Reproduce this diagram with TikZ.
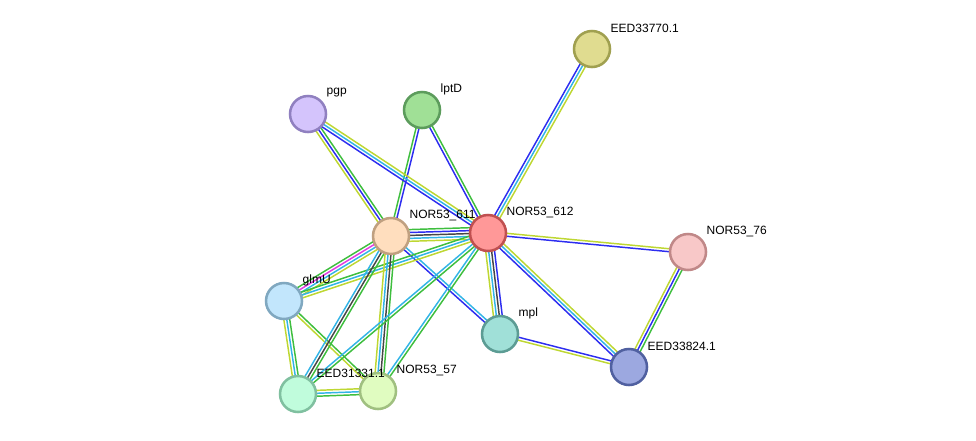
\documentclass[tikz,border=0pt]{standalone}
\usepackage{fontspec}
\setmainfont{Liberation Sans}
\usetikzlibrary{calc,backgrounds}

\definecolor{nbgreen}{RGB}{62,190,62}
\definecolor{ocblue}{RGB}{45,45,240}
\definecolor{cxblack}{RGB}{70,70,70}
\definecolor{dbcyan}{RGB}{50,180,230}
\definecolor{tmyellow}{RGB}{190,215,50}
\definecolor{exmagenta}{RGB}{225,60,225}

% parallel lines between two proteins, one per evidence colour
\newcommand{\evidence}[3]{%
    \foreach \c [count=\n] in {#3} {\xdef\nlines{\n}}
    \foreach \c [count=\i] in {#3} {
        \pgfmathsetmacro{\off}{(\i-1-(\nlines-1)/2)*2.2}
        \draw[\c] ($(#1)!\off pt!90:(#2)$) -- ($(#2)!\off pt!-90:(#1)$);
    }
}

\begin{document}
\begin{tikzpicture}[
    x=0.75pt, y=-0.75pt,
    prot/.style={circle, draw, line width=1.9pt, minimum size=27pt, inner sep=0pt},
    lbl/.style={anchor=west, inner sep=0pt, font=\fontsize{9}{11}\selectfont},
    every path/.style={line width=1.1pt}
]
    \useasboundingbox (0,0) rectangle (976,440);

    \node[prot, fill={rgb,255:red,255;green,152;blue,152}, draw={rgb,255:red,192;green,80;blue,80}] (n612) at (488,233) {};
    \node[prot, fill={rgb,255:red,255;green,222;blue,190}, draw={rgb,255:red,192;green,160;blue,128}] (n611) at (391,236) {};
    \node[prot, fill={rgb,255:red,224;green,220;blue,144}, draw={rgb,255:red,160;green,160;blue,80}] (e770) at (592,49) {};
    \node[prot, fill={rgb,255:red,160;green,224;blue,150}, draw={rgb,255:red,92;green,156;blue,92}] (lptd) at (422,110) {};
    \node[prot, fill={rgb,255:red,212;green,196;blue,252}, draw={rgb,255:red,144;green,128;blue,192}] (pgp) at (308,114) {};
    \node[prot, fill={rgb,255:red,248;green,200;blue,200}, draw={rgb,255:red,192;green,136;blue,136}] (n76) at (688,252) {};
    \node[prot, fill={rgb,255:red,194;green,230;blue,252}, draw={rgb,255:red,128;green,168;blue,192}] (glmu) at (284,301) {};
    \node[prot, fill={rgb,255:red,160;green,224;blue,216}, draw={rgb,255:red,92;green,156;blue,148}] (mpl) at (500,334) {};
    \node[prot, fill={rgb,255:red,156;green,168;blue,224}, draw={rgb,255:red,80;green,96;blue,160}] (e824) at (629,367) {};
    \node[prot, fill={rgb,255:red,192;green,252;blue,220}, draw={rgb,255:red,128;green,192;blue,160}] (e331) at (298,394) {};
    \node[prot, fill={rgb,255:red,224;green,252;blue,192}, draw={rgb,255:red,160;green,192;blue,128}] (n57) at (378,391) {};

    \foreach \p/\t in {n612/NOR53\_612, n611/NOR53\_611, e770/EED33770.1, lptd/lptD,
        pgp/pgp, n76/NOR53\_76, glmu/glmU, mpl/mpl, e824/EED33824.1,
        e331/EED31331.1, n57/NOR53\_57}
        \node[lbl] (t\p) at ($(\p)+(18,-21)$) {\t};

    \begin{pgfonlayer}{background}
        \evidence{n612}{e770}{tmyellow,dbcyan,ocblue}
        \evidence{n612}{lptd}{nbgreen,ocblue}
        \evidence{n611}{lptd}{ocblue,nbgreen}
        \evidence{pgp}{n611}{tmyellow,ocblue,nbgreen}
        \evidence{pgp}{n612}{ocblue,dbcyan,tmyellow}
        \evidence{n611}{n612}{tmyellow,dbcyan,cxblack,ocblue,nbgreen}
        \evidence{n612}{n76}{ocblue,tmyellow}
        \evidence{n612}{e824}{ocblue,dbcyan,tmyellow}
        \evidence{n612}{mpl}{tmyellow,dbcyan,cxblack,ocblue}
        \evidence{n611}{mpl}{ocblue,dbcyan}
        \evidence{n76}{e824}{tmyellow,ocblue,nbgreen}
        \evidence{mpl}{e824}{tmyellow,ocblue}
        \evidence{glmu}{n611}{tmyellow,dbcyan,exmagenta,nbgreen}
        \evidence{glmu}{n612}{tmyellow,dbcyan,nbgreen}
        \evidence{glmu}{e331}{tmyellow,dbcyan,nbgreen}
        \evidence{glmu}{n57}{tmyellow,nbgreen}
        \evidence{e331}{n57}{nbgreen,dbcyan,tmyellow}
        \evidence{n611}{e331}{dbcyan,cxblack,nbgreen}
        \evidence{n611}{n57}{tmyellow,dbcyan,cxblack,nbgreen}
        \evidence{n612}{e331}{dbcyan,nbgreen}
        \evidence{n612}{n57}{dbcyan,nbgreen}
    \end{pgfonlayer}

\end{tikzpicture}
\end{document}
